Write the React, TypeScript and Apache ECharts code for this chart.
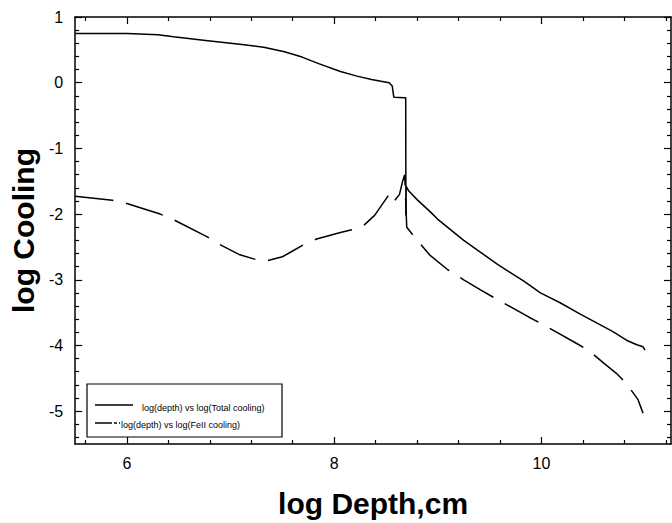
import React, { useEffect, useRef } from "react";
import * as echarts from "echarts";

// log depth (cm) vs log total cooling
const depthTotal = [5.5, 6.0, 6.3, 6.45, 6.78, 7.11, 7.32, 7.52, 7.69, 7.85, 8.06, 8.22, 8.36, 8.53, 8.56, 8.575, 8.68, 8.69, 8.692, 8.695, 8.72, 8.8, 8.93, 9.0, 9.25, 9.58, 9.83, 9.99, 10.18, 10.37, 10.69, 10.82, 10.92, 10.98, 11.0];
const coolTotal = [0.75, 0.75, 0.73, 0.70, 0.64, 0.58, 0.54, 0.47, 0.39, 0.29, 0.17, 0.10, 0.05, 0.0, -0.05, -0.22, -0.23, -0.23, -2.02, -1.58, -1.65, -1.78, -1.97, -2.08, -2.40, -2.77, -3.02, -3.20, -3.35, -3.52, -3.79, -3.92, -3.99, -4.02, -4.07];

// log depth (cm) vs log FeII cooling
const depthFe = [5.5, 5.86, 5.96, 6.32, 6.43, 6.78, 6.89, 7.09, 7.24, 7.33, 7.5, 7.59, 7.7, 7.83, 8.06, 8.17, 8.28, 8.39, 8.53, 8.57, 8.63, 8.66, 8.68, 8.7, 8.76, 8.92, 9.09, 9.25, 9.42, 9.54, 9.88, 10.0, 10.34, 10.45, 10.61, 10.72, 10.82, 10.93, 10.98];
const coolFe = [-1.73, -1.79, -1.82, -2.0, -2.07, -2.35, -2.46, -2.62, -2.69, -2.72, -2.65, -2.57, -2.47, -2.38, -2.28, -2.24, -2.18, -2.02, -1.7, -1.82, -1.7, -1.5, -1.4, -2.2, -2.32, -2.62, -2.84, -3.0, -3.16, -3.27, -3.57, -3.67, -3.97, -4.07, -4.28, -4.42, -4.58, -4.82, -5.03];

const xMajorTicks = [6, 8, 10];
const xMinorTicks = [5.6, 6.4, 6.8, 7.2, 7.6, 8.4, 8.8, 9.2, 9.6, 10.4, 10.8, 11.2];
const yMajorTicks = [-5, -4, -3, -2, -1, 0, 1];
const yMinorTicks = [-5.4, -5.2, -4.8, -4.6, -4.4, -4.2, -3.8, -3.6, -3.4, -3.2, -2.8, -2.6, -2.4, -2.2, -1.8, -1.6, -1.4, -1.2, -0.8, -0.6, -0.4, -0.2, 0.2, 0.4, 0.6, 0.8];

const legendLabels = ["log(depth) vs log(Total cooling)", "log(depth) vs log(FeII cooling)"];

const X_MIN = 5.5;
const X_MAX = 11.25;
const Y_MIN = -5.5;
const Y_MAX = 1;

const FONT = "Liberation Sans, Arial, Helvetica, sans-serif";

export default function App() {
  const ref = useRef<HTMLDivElement>(null);

  useEffect(() => {
    document.body.style.margin = "0";
    if (!ref.current) return;
    const chart = echarts.init(ref.current, undefined, { renderer: "svg", width: 672, height: 523 });

    const lineStyle = { color: "#000", width: 1.5 };
    const mkX = (position: string, major: boolean, withLabel: boolean, withLine: boolean, name?: string) => ({
      type: "value",
      position,
      min: X_MIN,
      max: X_MAX,
      name: name || "",
      nameLocation: "middle",
      nameGap: 44,
      nameTextStyle: { fontFamily: FONT, fontSize: 30, fontWeight: "bold", color: "#000" },
      axisLine: { show: withLine, onZero: false, lineStyle },
      axisTick: { show: true, inside: true, length: major ? 7 : 4, customValues: major ? xMajorTicks : xMinorTicks, lineStyle: { color: "#000", width: 1.2 } },
      axisLabel: withLabel
        ? { show: true, customValues: xMajorTicks, margin: 11, fontFamily: FONT, fontSize: 16, color: "#000" }
        : { show: false },
      splitLine: { show: false },
    });
    const mkY = (position: string, major: boolean, withLabel: boolean, withLine: boolean, name?: string) => ({
      type: "value",
      position,
      min: Y_MIN,
      max: Y_MAX,
      name: name || "",
      nameLocation: "middle",
      nameGap: 36,
      nameRotate: 90,
      nameTextStyle: { fontFamily: FONT, fontSize: 30, fontWeight: "bold", color: "#000" },
      axisLine: { show: withLine, onZero: false, lineStyle },
      axisTick: { show: true, inside: true, length: major ? 7 : 4, customValues: major ? yMajorTicks : yMinorTicks, lineStyle: { color: "#000", width: 1.2 } },
      axisLabel: withLabel
        ? { show: true, customValues: yMajorTicks, margin: 12, fontFamily: FONT, fontSize: 16, color: "#000" }
        : { show: false },
      splitLine: { show: false },
    });

    const lgX = 87, lgY = 384, lgW = 195, lgH = 53;

    chart.setOption({
      animation: false,
      backgroundColor: "#fff",
      grid: { left: 72, width: 599, top: 17, height: 434, containLabel: false },
      xAxis: [
        mkX("bottom", true, true, true, "log Depth,cm"),
        mkX("bottom", false, false, false),
        mkX("top", true, false, true),
        mkX("top", false, false, false),
      ],
      yAxis: [
        mkY("left", true, true, true, "log Cooling"),
        mkY("left", false, false, false),
        mkY("right", true, false, true),
        mkY("right", false, false, false),
      ],
      series: [
        {
          name: legendLabels[0],
          type: "line",
          xAxisIndex: 0,
          yAxisIndex: 0,
          showSymbol: false,
          symbol: "none",
          lineStyle: { color: "#000", width: 1.5 },
          data: depthTotal.map((d, i) => [d, coolTotal[i]]),
        },
        {
          name: legendLabels[1],
          type: "line",
          xAxisIndex: 0,
          yAxisIndex: 0,
          showSymbol: false,
          symbol: "none",
          lineStyle: { color: "#000", width: 1.5, type: [38.5, 13] },
          data: depthFe.map((d, i) => [d, coolFe[i]]),
        },
      ],
      graphic: [
        {
          type: "rect",
          shape: { x: lgX, y: lgY, width: lgW, height: lgH },
          style: { fill: "#fff", stroke: "#000", lineWidth: 1.2 },
          z: 100,
        },
        {
          type: "line",
          shape: { x1: 95, y1: 405, x2: 133, y2: 405 },
          style: { stroke: "#000", lineWidth: 1.5 },
          z: 101,
        },
        {
          type: "text",
          x: 142,
          y: 408,
          style: { text: legendLabels[0], fontFamily: FONT, fontSize: 9, fill: "#000", verticalAlign: "middle", align: "left" },
          z: 101,
        },
        {
          type: "line",
          shape: { x1: 95, y1: 423, x2: 120, y2: 423 },
          style: { stroke: "#000", lineWidth: 1.5, lineDash: [17, 2, 3, 2] },
          z: 101,
        },
        {
          type: "text",
          x: 121,
          y: 425,
          style: { text: legendLabels[1], fontFamily: FONT, fontSize: 9, fill: "#000", verticalAlign: "middle", align: "left" },
          z: 101,
        },
      ],
    });

    return () => chart.dispose();
  }, []);

  return (
    <div
      ref={ref}
      style={{ position: "absolute", left: 0, top: 0, width: 672, height: 523, background: "#fff" }}
    />
  );
}
